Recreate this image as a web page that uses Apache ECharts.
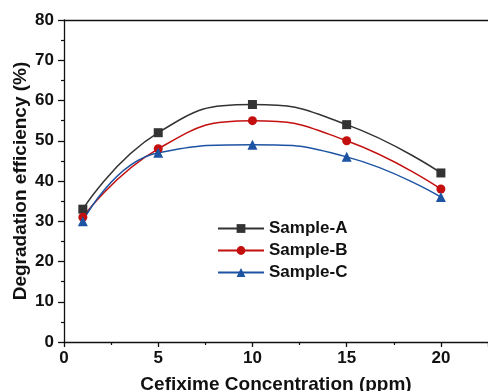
<!DOCTYPE html>
<html>
<head>
<meta charset="utf-8">
<script src="https://cdn.jsdelivr.net/npm/echarts@6/dist/echarts.min.js"></script>
<style>
  html, body { margin: 0; padding: 0; background: #fff; }
  #chart { width: 488px; height: 391px; }
</style>
</head>
<body>
<div id="chart"></div>
<script>
// Cefixime concentration (ppm)
const concentrations = [1, 5, 10, 15, 20];
// Degradation efficiency (%) per sample
const sampleA = [33, 52, 59, 54, 42];
const sampleB = [31, 48, 55, 50, 38];
const sampleC = [30, 47, 49, 46, 36];
const seriesNames = ['Sample-A', 'Sample-B', 'Sample-C'];

const FONT = 'Liberation Sans, Arial, sans-serif';

function pairs(vals) {
  return concentrations.map((x, i) => [x, vals[i]]);
}

function lineSeries(name, vals, color, symbol, size) {
  return {
    name: name,
    type: 'line',
    data: pairs(vals),
    smooth: 0.5,
    symbol: symbol,
    symbolSize: size,
    showSymbol: true,
    lineStyle: { color: color, width: 1.5 },
    itemStyle: { color: color },
    xAxisIndex: 0,
    yAxisIndex: 0,
    z: 3
  };
}

const chart = echarts.init(document.getElementById('chart'), null, { renderer: 'canvas' });

chart.setOption({
  animation: false,
  backgroundColor: '#ffffff',
  grid: {
    left: 64, right: 0, top: 20, bottom: 49,
    containLabel: false,
    outerBoundsMode: 'none'
  },
  legend: {
    data: seriesNames,
    orient: 'vertical',
    left: 212,
    top: 215,
    itemWidth: 46,
    itemHeight: 11,
    itemGap: 5,
    textStyle: { fontFamily: FONT, fontWeight: 'bold', fontSize: 17, color: '#111' }
  },
  xAxis: [{
    type: 'value',
    min: 0,
    max: 22.5,
    interval: 5,
    position: 'bottom',
    name: 'Cefixime Concentration (ppm)',
    nameLocation: 'middle',
    nameGap: 33,
    nameMoveOverlap: false,
    nameTextStyle: { fontFamily: FONT, fontWeight: 'bold', fontSize: 19, color: '#111' },
    axisLine: { show: true, onZero: false, lineStyle: { color: '#111', width: 1.3 } },
    axisTick: { show: true, inside: false, length: 5, lineStyle: { color: '#111', width: 1.3 } },
    minorTick: { show: true, splitNumber: 2, length: 3, lineStyle: { color: '#111', width: 1.2 } },
    axisLabel: {
      fontFamily: FONT, fontWeight: 'bold', fontSize: 17, color: '#111', margin: 8,
      formatter: v => (v % 5 === 0 && v <= 20 ? String(v) : '')
    },
    splitLine: { show: false }
  }, {
    type: 'value',
    min: 0,
    max: 22.5,
    position: 'top',
    axisLine: { show: true, onZero: false, lineStyle: { color: '#111', width: 1.3 } },
    axisTick: { show: false },
    axisLabel: { show: false },
    splitLine: { show: false }
  }],
  yAxis: {
    type: 'value',
    min: 0,
    max: 80,
    interval: 10,
    name: 'Degradation efficiency (%)',
    nameLocation: 'middle',
    nameGap: 34,
    nameMoveOverlap: false,
    nameTextStyle: { fontFamily: FONT, fontWeight: 'bold', fontSize: 19, color: '#111' },
    axisLine: { show: true, onZero: false, lineStyle: { color: '#111', width: 1.3 } },
    axisTick: { show: true, inside: false, length: 6, lineStyle: { color: '#111', width: 1.3 } },
    minorTick: { show: true, splitNumber: 2, length: 3, lineStyle: { color: '#111', width: 1.2 } },
    axisLabel: { fontFamily: FONT, fontWeight: 'bold', fontSize: 17, color: '#111', margin: 10 },
    splitLine: { show: false }
  },
  series: [
    lineSeries(seriesNames[0], sampleA, '#333333', 'rect', 9),
    lineSeries(seriesNames[1], sampleB, '#c40f0f', 'circle', 9),
    lineSeries(seriesNames[2], sampleC, '#1c53a3', 'triangle', 10)
  ]
});
</script>
</body>
</html>
